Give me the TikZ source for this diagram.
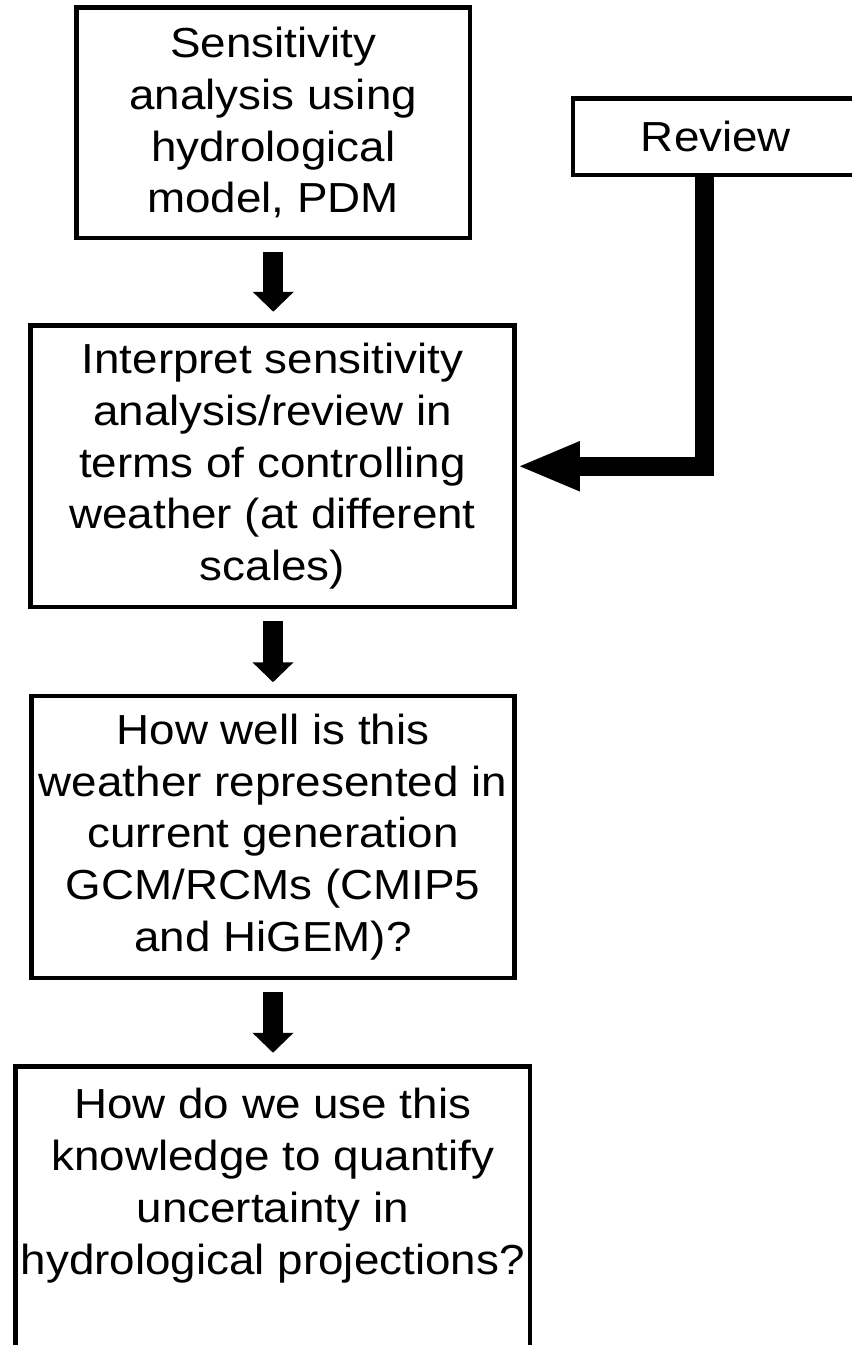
\documentclass[tikz,border=0pt]{standalone}
\usepackage{fontspec}
\setmainfont[FakeStretch=1.09]{Liberation Sans}
\usepackage{tikz}
\usetikzlibrary{arrows.meta}

\begin{document}
\begin{tikzpicture}[x=1pt,y=-1pt,box/.style={draw=black,line width=4.5pt,rectangle,inner sep=0pt,align=center,font=\fontsize{42}{51.7}\selectfont},flowarrow/.style={line width=20pt,-{Triangle[width=40pt,length=20pt]},shorten <=12pt,shorten >=11.5pt},bigarrow/.style={line width=19pt,line join=miter,-{Triangle[width=45pt,length=63pt]}}]
  \useasboundingbox (0,0) rectangle (852,1345);
  \clip (0,0) rectangle (852,1345);
  \node[box,minimum width=393.5pt,minimum height=230.5pt] (sens) at (273.25,122.75) {Sensitivity\\analysis using\\hydrological\\model, PDM};
  \node[box,minimum width=286pt,minimum height=76.5pt] (review) at (716,136.75) {Review};
  \node[box,minimum width=484pt,minimum height=281.5pt] (interp) at (272.5,466.25) {Interpret sensitivity\\analysis/review in\\terms of controlling\\weather (at different\\scales)};
  \node[box,minimum width=483pt,minimum height=282pt] (wellrep) at (273,837) {How well is this\\weather represented in\\current generation\\GCM/RCMs (CMIP5\\and HiGEM)?};
  \node[box,minimum width=514.5pt,minimum height=333pt] (quant) at (272.75,1233) {How do we use this\\knowledge to quantify\\uncertainty in\\hydrological projections?\\~\\~};
  \coordinate (revdrop) at (704.5,175);
  \draw[flowarrow] (sens.south) -- (sens.south |- interp.north);
  \draw[flowarrow] (interp.south -| wellrep.north) -- (wellrep.north);
  \draw[flowarrow] (wellrep.south) -- (wellrep.south |- quant.north);
  \draw[bigarrow] (revdrop) |- (interp.east);
\end{tikzpicture}
\end{document}
